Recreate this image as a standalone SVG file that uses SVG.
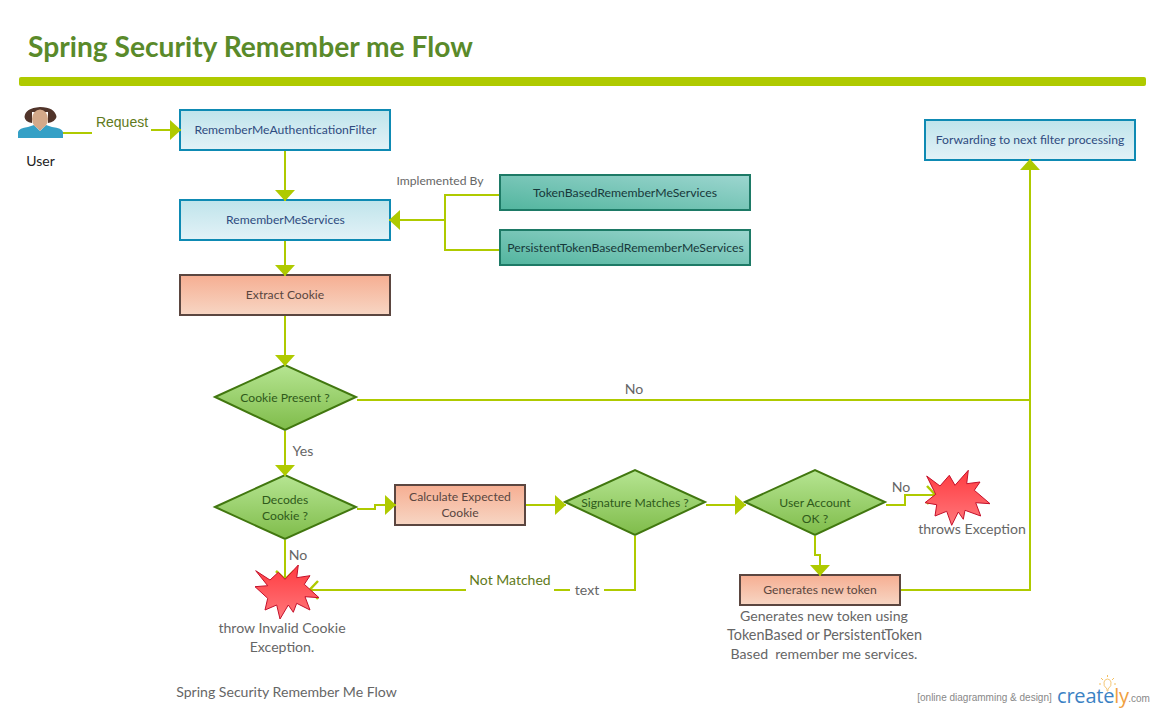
<svg xmlns="http://www.w3.org/2000/svg" width="1155" height="713" viewBox="0 0 1155 713">
<style>
text{font-family:Lato,"Liberation Sans",sans-serif;font-size:12.150px;text-anchor:middle}
.b{fill:url(#gb);stroke:#0e8ab3;stroke-width:2}
.o{fill:url(#go);stroke:#5b4640;stroke-width:2}
.t{fill:url(#gt);stroke:#1d7a66;stroke-width:2}
.d{fill:url(#gd);stroke:#41770f;stroke-width:2}
.s{fill:url(#gs);stroke:#c4102a;stroke-width:1}
.bt{fill:#2f4b80}.ot{fill:#5a4640}.tt{fill:#17383a;font-size:12.250px}.dt{fill:#2f5a1a}
.l{font-size:14.100px;fill:#666}
.g{font-size:14px;fill:#5f7a20}
.c{fill:none;stroke:#afca00;stroke-width:2;marker-end:url(#a)}
.v{fill:none;stroke:#afca00;stroke-width:2;marker-end:url(#v)}
.n{fill:none;stroke:#afca00;stroke-width:2}
.w{fill:#fff}
.f{font-family:"Liberation Sans",sans-serif;font-size:10px;fill:#888}
</style>
<defs>
<linearGradient id="gb" x1="0" y1="0" x2="0" y2="1"><stop offset="0" stop-color="#bfe4eb"/><stop offset="1" stop-color="#e3f2f7"/></linearGradient>
<linearGradient id="go" x1="0" y1="0" x2="0" y2="1"><stop offset="0" stop-color="#f6ae92"/><stop offset="1" stop-color="#f7d6c4"/></linearGradient>
<linearGradient id="gt" x1="0" y1="1" x2="1" y2="0"><stop offset="0" stop-color="#52b59e"/><stop offset="1" stop-color="#9dd6d0"/></linearGradient>
<linearGradient id="gd" x1="0" y1="0" x2="0" y2="1"><stop offset="0" stop-color="#b6e592"/><stop offset="1" stop-color="#7fbc4a"/></linearGradient>
<linearGradient id="gs" x1="0" y1="0" x2="0" y2="1"><stop offset="0" stop-color="#ff3b40"/><stop offset="1" stop-color="#ff777b"/></linearGradient>
<marker id="a" markerUnits="userSpaceOnUse" viewBox="0 0 11 20" markerWidth="11" markerHeight="20" refX="11" refY="10" orient="auto"><path d="M0 0L11 10L0 20Z" fill="#afca00"/></marker>
<marker id="v" markerUnits="userSpaceOnUse" viewBox="0 0 12 22" markerWidth="12" markerHeight="22" refX="11" refY="11" orient="auto"><path d="M2 2L10.500 11L2 20" fill="none" stroke="#afca00" stroke-width="2.500"/></marker>
</defs>

<text x="28" y="57" style="font-size:28.200px;font-weight:700;text-anchor:start;fill:#5a8a2a">Spring Security Remember me Flow</text>
<rect x="19" y="77" width="1127" height="9" rx="2" fill="#afca00"/>

<g id="user">
<path d="M18 138V132Q19 128 28 127L34 125L40 131L46 125L52 127Q62 128 63 132V138Z" fill="#35a0c6"/>
<path d="M34 124L40 131L46 124Z" fill="#cfa185"/>
<path d="M24.500 117Q25 108 40 107Q55 107 56.500 117Q55 122 48 123V112H32V123Q25 122 24.500 117Z" fill="#51342a"/>
<ellipse cx="40" cy="119" rx="8" ry="9.500" fill="#d4a98a"/>
<text x="40.500" y="166" style="font-size:14px;fill:#222">User</text>
</g>

<g id="filter"><rect class="b" x="180" y="110" width="210" height="40"/><text class="bt" x="285.500" y="134">RememberMeAuthenticationFilter</text></g>
<g id="services"><rect class="b" x="180" y="200" width="210" height="40"/><text class="bt" x="285.500" y="224">RememberMeServices</text></g>
<g id="extract"><rect class="o" x="180" y="275" width="210" height="40"/><text class="ot" x="285" y="299">Extract Cookie</text></g>
<g id="tokenbased"><rect class="t" x="500" y="175" width="250" height="35"/><text class="tt" x="625" y="197">TokenBasedRememberMeServices</text></g>
<g id="persistent"><rect class="t" x="500" y="230" width="250" height="35"/><text class="tt" x="625.500" y="252">PersistentTokenBasedRememberMeServices</text></g>
<g id="forward"><rect class="b" x="925" y="120" width="210" height="40"/><text class="bt" x="1030" y="144">Forwarding to next filter processing</text></g>
<g id="present"><path class="d" d="M215 397L285 365L356 397L285 430Z"/><text class="dt" x="285" y="402">Cookie Present ?</text></g>
<g id="decodes"><path class="d" d="M215 507L285 475L356 507L285 539Z"/><text class="dt" x="285" y="504">Decodes</text><text class="dt" x="285" y="520">Cookie ?</text></g>
<g id="calculate"><rect class="o" x="395" y="485" width="130" height="40"/><text class="ot" x="460" y="501">Calculate Expected</text><text class="ot" x="460" y="517">Cookie</text></g>
<g id="signature"><path class="d" d="M565 502L635 470L705 502L635 535Z"/><text class="dt" x="635" y="507">Signature Matches ?</text></g>
<g id="account"><path class="d" d="M745 502L815 470L885 502L815 535Z"/><text class="dt" x="815" y="507">User Account</text><text class="dt" x="815" y="523">OK ?</text></g>
<g id="generate"><rect class="o" x="740" y="575" width="160" height="30"/><text class="ot" x="820" y="594">Generates new token</text></g>

<g id="connectors">
<path class="c" d="M63 133H120V130H181"/>
<path class="c" d="M285 151V201"/>
<path class="c" d="M285 241V276"/>
<path class="c" d="M285 316V366"/>
<path class="c" d="M285 431V476"/>
<path class="v" d="M285 540V580"/>
<path class="c" d="M357 509H375V505H396"/>
<path class="c" d="M526 505H566"/>
<path class="c" d="M706 505H746"/>
<path class="v" d="M886 505H905V495H936"/>
<path class="c" d="M815 536V555H820V576"/>
<path class="v" d="M635 536V590H309"/>
<path class="c" d="M499 195H445V220H389"/>
<path class="n" d="M499 250H445V220"/>
<path class="n" d="M357 400H1030"/>
<path class="c" d="M901 590H1030V159"/>
<rect class="w" x="92" y="113" width="59" height="26"/>
<rect class="w" x="466" y="572" width="88" height="26"/>
<rect class="w" x="570" y="580" width="34" height="20"/>
</g>

<text class="g" x="122" y="127" style="font-family:'Liberation Sans',sans-serif">Request</text>
<text x="440" y="185" style="fill:#666">Implemented By</text>

<g id="star1"><path class="s" d="M255.700 570.700L270 580L278.300 572.300L285 579.300L298.300 565L296.700 577.700L310 575.700L304.300 584.300L319 597.700L305 596.700L310 610L296.700 603.300L293.300 612.300L288.300 605L280 619L276.700 605L265 610L267.700 598.300L255 586.700L267.700 585.700Z"/></g>
<g id="star2"><path class="s" d="M926.700 476L940 486L949.300 475.300L955 485.300L968.300 470.300L966.700 483.700L980 482L974.300 490.300L990 503.700L975.700 502.700L980.700 516L965 510.300L963.300 519.300L958.300 512L951.700 525.300L946.700 511.300L935 516L936.700 504.700L925 502.700L935.700 494.300Z"/></g>

<text class="l" x="634" y="394">No</text>
<text class="l" x="303" y="456">Yes</text>
<text class="l" x="298" y="560">No</text>
<text class="l" x="901" y="492">No</text>
<text class="l" x="587" y="595">text</text>
<text class="g" x="510" y="585">Not Matched</text>
<text class="l" x="972" y="534">throws Exception</text>
<text class="l" x="282" y="633">throw Invalid Cookie</text>
<text class="l" x="282" y="652">Exception.</text>
<text class="l" x="824" y="621">Generates new token using</text>
<text class="l" x="824.500" y="640" style="font-size:14.400px">TokenBased or PersistentToken</text>
<text class="l" x="824" y="659" style="white-space:pre">Based  remember me services.</text>
<text class="l" x="286.500" y="697">Spring Security Remember Me Flow</text>

<g id="logo">
<text class="f" x="984.500" y="701">[online diagramming &amp; design]</text>
<text x="1057" y="703" style="font-family:'Open Sans',sans-serif;font-size:20px;text-anchor:start;fill:#3b82c4;letter-spacing:-.2px">create<tspan fill="#f0a040">ly</tspan></text>
<text class="f" x="1139" y="702">.com</text>
<path d="M1107 691V689Q1103 686 1104 682Q1105 679 1107.500 679Q1110 679 1111 682Q1112 686 1108 689V691Z" fill="#fff" stroke="#f5c878"/>
<path d="M1107.500 675V677M1101 678L1103 680M1114 678L1112 680M1099 684H1101M1114 684H1116" stroke="#f5c060" fill="none"/>
</g>
</svg>
